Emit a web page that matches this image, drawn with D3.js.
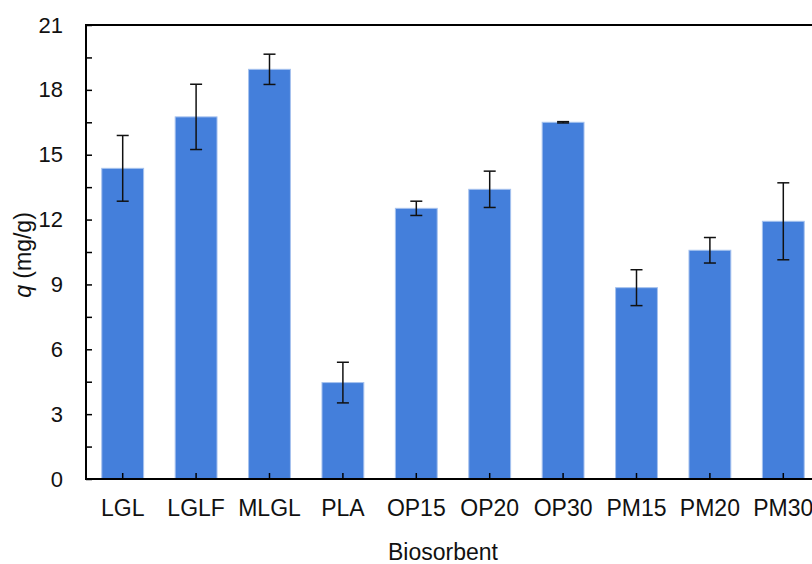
<!DOCTYPE html>
<html lang="en">
<head>
<meta charset="UTF-8">
<title>Biosorbent q</title>
<style>
  body { margin: 0; background: #fff; }
  svg { display: block; font-family: "Liberation Sans", Arial, sans-serif; }
</style>
</head>
<body>
<svg id="chart"></svg>
<script src="https://d3js.org/d3.v7.min.js"></script>
<script>
const categories = ["LGL", "LGLF", "MLGL", "PLA", "OP15", "OP20", "OP30", "PM15", "PM20", "PM30"];
const values = [14.37, 16.75, 18.95, 4.46, 12.52, 13.40, 16.50, 8.85, 10.58, 11.92];
const errors = [1.52, 1.51, 0.70, 0.94, 0.33, 0.84, 0.03, 0.83, 0.59, 1.78];
const yTicks = [0, 3, 6, 9, 12, 15, 18, 21];

const width = 812, height = 564;
const plotLeft = 86, plotRight = 820, plotTop = 25, plotBottom = 479;

const svg = d3.select("#chart").attr("width", width).attr("height", height);

const x = d3.scaleBand()
    .domain(categories)
    .range([plotLeft, plotRight])
    .paddingInner(0.43)
    .paddingOuter(0.215);

const y = d3.scaleLinear().domain([0, 21]).range([plotBottom, plotTop]);

// bars
svg.append("g")
    .selectAll("rect")
    .data(categories)
    .join("rect")
    .attr("x", d => x(d))
    .attr("y", (d, i) => y(values[i]))
    .attr("width", x.bandwidth())
    .attr("height", (d, i) => y(0) - y(values[i]))
    .attr("fill", "#447fdb")
    .attr("stroke", "#a6c2ee")
    .attr("stroke-width", 1);

// error bars
const err = svg.append("g").attr("stroke", "#111").attr("stroke-width", 1.5);
categories.forEach((c, i) => {
    const cx = x(c) + x.bandwidth() / 2;
    const hi = y(values[i] + errors[i]), lo = y(values[i] - errors[i]);
    err.append("line").attr("x1", cx).attr("x2", cx).attr("y1", hi).attr("y2", lo);
    err.append("line").attr("x1", cx - 6).attr("x2", cx + 6).attr("y1", hi).attr("y2", hi);
    err.append("line").attr("x1", cx - 6).attr("x2", cx + 6).attr("y1", lo).attr("y2", lo);
});

// minor ticks on y (inside)
const minor = d3.range(1.5, 21, 3);
svg.append("g")
    .attr("transform", `translate(${plotLeft},0)`)
    .call(d3.axisRight(y).tickValues(minor).tickSize(6).tickFormat(""))
    .call(g => g.select(".domain").remove())
    .call(g => g.selectAll("line").attr("stroke", "#000").attr("stroke-width", 1.5));

// y axis
const yAxis = svg.append("g")
    .attr("transform", `translate(${plotLeft},0)`)
    .call(d3.axisRight(y).tickValues(yTicks).tickSize(6).tickSizeOuter(0));
yAxis.select(".domain").remove();
yAxis.selectAll("line").attr("stroke", "#000").attr("stroke-width", 1.5);
yAxis.selectAll("text")
    .attr("x", -23)
    .attr("text-anchor", "end")
    .attr("fill", "#111")
    .style("font-size", "22px");

// x axis
const xAxis = svg.append("g")
    .attr("transform", `translate(0,${plotBottom})`)
    .call(d3.axisTop(x).tickSize(6).tickSizeOuter(0));
xAxis.select(".domain").remove();
xAxis.selectAll("line").attr("stroke", "#000").attr("stroke-width", 1.5);
xAxis.selectAll("text")
    .attr("y", 37)
    .attr("dy", 0)
    .attr("fill", "#111")
    .style("font-size", "23px");

// frame lines
svg.append("line").attr("x1", plotLeft).attr("x2", plotLeft).attr("y1", plotTop - 1).attr("y2", plotBottom + 1)
    .attr("stroke", "#000").attr("stroke-width", 2);
svg.append("line").attr("x1", plotLeft - 1).attr("x2", plotRight).attr("y1", plotBottom).attr("y2", plotBottom)
    .attr("stroke", "#000").attr("stroke-width", 2);
svg.append("line").attr("x1", plotLeft - 1).attr("x2", plotRight).attr("y1", plotTop).attr("y2", plotTop)
    .attr("stroke", "#000").attr("stroke-width", 2);

// axis titles
svg.append("text")
    .attr("x", 443).attr("y", 560)
    .attr("text-anchor", "middle")
    .attr("fill", "#111")
    .style("font-size", "23px")
    .text("Biosorbent");

const yt = svg.append("text")
    .attr("transform", `translate(31,255) rotate(-90)`)
    .attr("text-anchor", "middle")
    .attr("fill", "#111")
    .style("font-size", "23px");
yt.append("tspan").style("font-style", "italic").text("q");
yt.append("tspan").text(" (mg/g)");
</script>
</body>
</html>
